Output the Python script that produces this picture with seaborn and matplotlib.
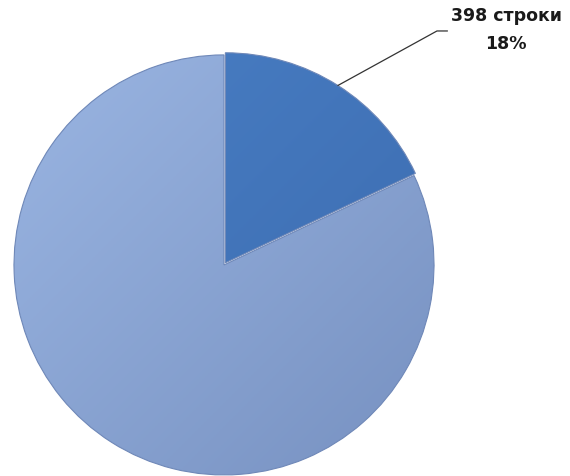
import numpy as np
import matplotlib
matplotlib.use('Agg')
import matplotlib.pyplot as plt
from matplotlib.colors import LinearSegmentedColormap
import seaborn as sns

# данные диаграммы
labels = ['398 строки', 'остальные строки']
values = [398, 1813]
# светлый / тёмный тон для каждого сектора (градиент)
colors_light = ['#4a80c6', '#9bb6e3']
colors_dark = ['#3a69ad', '#7690c0']
explode = [0.012, 0.0]

sns.set_theme(style='white')
plt.rcParams['font.family'] = ['DejaVu Sans']

fig = plt.figure(figsize=(5.70, 4.77), dpi=100)
lim = 1.03
ax = fig.add_axes([0.0135, -0.011, 0.759, 0.907])

wedges, _ = ax.pie(values, colors=colors_light, startangle=90, counterclock=False,
                   explode=explode, radius=1.0,
                   wedgeprops=dict(edgecolor='#6f88b8', linewidth=0.8))
ax.set_aspect('equal')
ax.axis('off')

# градиент сверху-слева вниз-вправо внутри каждого сектора
gx, gy = np.meshgrid(np.linspace(-1, 1, 300), np.linspace(1, -1, 300))
grad = (gx - gy + 2) / 4
for w, c1, c2 in zip(wedges, colors_light, colors_dark):
    cmap = LinearSegmentedColormap.from_list('g', [c1, c2])
    im = ax.imshow(grad, cmap=cmap, extent=[-1.05, 1.05, -1.05, 1.05],
                   origin='upper', zorder=w.get_zorder() + 0.1, interpolation='bilinear')
    im.set_clip_path(w)
for w in wedges:
    w.set_zorder(w.get_zorder() + 0.2)
    w.set_facecolor('none')
ax.set_xlim(-lim, lim)
ax.set_ylim(-lim, lim)

# подпись только для маленького сектора
w = wedges[0]
mid = np.deg2rad((w.theta1 + w.theta2) / 2)
r0 = 1.0 + explode[0]
x0, y0 = r0 * np.cos(mid), r0 * np.sin(mid)
pct = values[0] / sum(values) * 100
x1, y1 = 1.014, 1.114
ax.plot([x0, x1, x1 + 0.05], [y0, y1, y1], color='#333333', lw=0.9, clip_on=False)
ax.text(x1 + 0.33, y1 + 0.01, f'{labels[0]}\n{pct:.0f}%', ha='center', va='center',
        fontsize=12.5, fontweight='bold', color='#1a1a1a', linespacing=1.75,
        clip_on=False)

fig.savefig('out.png', dpi=100)
